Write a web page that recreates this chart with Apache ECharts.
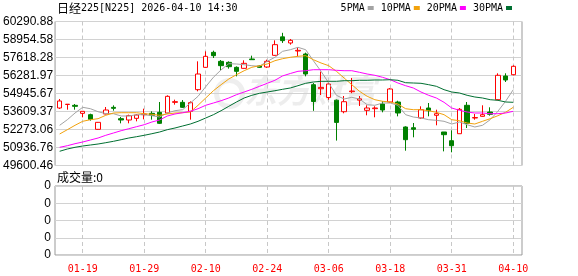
<!DOCTYPE html>
<html><head><meta charset="utf-8">
<script src="https://cdn.jsdelivr.net/npm/echarts@6/dist/echarts.min.js"></script>
<style>html,body{margin:0;padding:0;background:#fff}#c{width:578px;height:276px}</style>
</head><body><div id="c"></div>
<script>
const dates = ['01-14','01-15','01-16','01-19','01-20','01-21','01-22','01-23','01-26','01-27',
'01-28','01-29','01-30','02-02','02-03','02-04','02-05','02-06','02-09','02-10',
'02-12','02-13','02-16','02-17','02-18','02-19','02-20','02-24','02-25','02-26',
'02-27','03-02','03-03','03-04','03-05','03-06','03-09','03-10','03-11','03-12',
'03-13','03-16','03-17','03-18','03-19','03-23','03-24','03-25','03-26','03-27',
'03-30','03-31','04-01','04-02','04-03','04-06','04-07','04-08','04-09','04-10'];
const openP = [53869,54130,54067,53473,53374,52285,53424,53918,53077,52978,
53102,53374,53473,53547,53498,54290,54290,53621,55230,56888,
58002,57334,57259,56888,56814,57507,56987,56913,57779,59150,
58695,58101,57878,55600,55300,54650,54450,53594,55080,54450,
53698,53820,54166,54314,54314,52459,52406,53126,53869,53327,
52088,51441,51961,54069,53126,53250,53572,54485,56245,56341];
const closeP = [54389,54150,53993,53621,53028,52805,53720,53844,52978,53300,
53349,53424,53324,52731,54735,54339,53918,54265,56393,57705,
57754,57012,56937,56591,57185,57457,56888,57334,58571,58870,
58893,58150,56393,54350,55400,55650,52800,54336,55130,54550,
53869,53870,53720,55280,53498,51516,52288,53743,53669,53446,
51888,51070,53772,52733,53160,53372,53401,56297,55948,56965];
const lowP = [53795,53745,53745,53176,52929,52260,53400,53671,52731,52731,
52879,53028,53003,52680,53470,54116,53870,53003,55106,56860,
57581,56690,56789,56220,56790,57457,56840,56850,57750,58700,
58571,57705,56220,53660,54834,54480,51450,53475,54970,54017,
53327,53180,53550,54260,53250,50699,51694,53075,53252,52584,
50650,50580,51961,52384,53000,53225,53300,54440,55800,56297];
const highP = [54537,54160,54166,53621,53448,52830,53943,54067,53201,53374,
53424,53819,53621,54314,54809,54488,54460,54364,57333,58076,
58126,57432,57334,56960,57408,57754,57040,57457,58893,59450,
58992,58373,57977,55720,56570,55750,54500,54760,56100,54760,
54069,54000,54366,55350,54410,52510,52755,53995,54240,53743,
52088,52213,53869,54314,53424,54069,53920,56445,56445,57039];
const ma5 = [52585,53000,53498,53921,53817,53594,53446,53446,53275,53275,
53372,53372,53297,53201,53498,53669,53743,54240,54738,55450,
56150,56700,57158,57136,57084,57009,56965,57336,57633,58078,
58197,58375,58197,57381,56594,55725,54812,54537,54663,54537,
54114,54070,54240,54240,54070,53372,53201,53127,53000,52956,
52882,52681,52830,52629,52459,52585,53000,53624,54366,55228];
const ma10 = [51939,52258,52585,52882,53000,53075,53327,53498,53520,53520,
53520,53446,53401,53327,53424,53498,53520,53572,54070,54612,
55153,55599,56022,56341,56638,56891,57009,57136,57381,57529,
57633,57707,57752,57455,57210,57009,56594,56096,55599,55109,
54738,54485,54366,54315,54166,53817,53743,53743,53669,53550,
53372,53000,52926,52756,52681,52882,53075,53297,53550,53921];
const ma20 = [50951,51070,51219,51345,51493,51642,51842,52013,52184,52332,
52481,52629,52830,52978,53275,53424,53520,53624,53817,54070,
54240,54411,54612,54857,55057,55257,55480,55703,55926,56250,
56430,56594,56638,56712,56712,56712,56668,56638,56638,56519,
56393,56297,56148,55970,55725,55525,55354,55057,54812,54612,
54292,53869,53698,53572,53498,53498,53446,53446,53498,53624];
const ma30 = [50655,50825,50951,51048,51122,51196,51293,51397,51516,51642,
51738,51842,51961,52087,52258,52384,52533,52681,52882,53127,
53372,53669,53995,54315,54612,54812,54961,55057,55153,55257,
55354,55525,55703,55799,55851,55851,55851,55896,55896,55926,
55926,55948,55948,55970,55926,55747,55725,55703,55599,55480,
55228,55057,54983,54812,54686,54612,54485,54441,54315,54292];
const volume = new Array(60).fill(0);
const yTickLabels = ['49600.46','50936.76','52273.06','53609.37','54945.67','56281.97','57618.28','58954.58','60290.88'];
const volTickLabels = ['0','0','0','0','0'];
const xTickLabels = ['01-19','01-29','02-10','02-24','03-06','03-18','03-31','04-10'];
const maNames = ['5PMA','10PMA','20PMA','30PMA'];
const titleName = '日经';
const titleRest = '225[N225] 2026-04-10 14:30';
const volTitle = '成交量:0';

const yMin = 49600.46, yMax = 60290.88, yStep = (yMax - yMin) / 8;
const MAIN_TOP = 21.5, MAIN_H = 144, VOL_TOP = 186, VOL_H = 69;
const FRAME_L = 55, FRAME_W = 467, BAND_L = 55.8, BAND_W = 461.3;
const isTickDate = (d) => xTickLabels.indexOf(d) >= 0;
const labelInterval = function (a, b) {
  const idx = typeof a === 'number' ? a : (a && typeof a.value === 'number' ? a.value : dates.indexOf(b));
  return isTickDate(dates[idx]) || isTickDate(b);
};
const maColors = ['#a3a3a3', '#f2a20c', '#ff00ff', '#006f31'];

const baseGraphic = [
  {id: 'title', type: 'text', left: 57, top: 2, z: 10,
    style: {text: '{cn|' + titleName + '}{en|' + titleRest + '}',
      rich: {cn: {fontFamily: 'Noto Sans CJK SC', fontSize: 12, fill: '#000'},
             en: {fontFamily: 'DejaVu Sans Mono', fontSize: 10, fill: '#000'}}}},
  {id: 'voltitle', type: 'text', left: 57, top: 171, z: 10,
    style: {text: volTitle, font: '12px "Noto Sans CJK SC"', fill: '#000'}},
  {id: 'wm', type: 'text', left: 244, top: 74, z: -1, silent: true,
    style: {text: '东方财富', font: 'italic bold 33px "Noto Sans CJK SC"', fill: 'rgba(0,0,0,0.07)'}},
  {id: 'wmc', type: 'circle', left: 214, top: 78, z: -1, silent: true,
    shape: {r: 13}, style: {fill: 'none', stroke: 'rgba(0,0,0,0.065)', lineWidth: 5}}
];

const chart = echarts.init(document.getElementById('c'), null, {renderer: 'canvas'});
const candleData = dates.map((d, i) => [openP[i], closeP[i], lowP[i], highP[i]]);
const maData = [ma5, ma10, ma20, ma30];

chart.setOption({
  animation: false,
  backgroundColor: '#fff',
  grid: [
    {left: FRAME_L, top: MAIN_TOP, width: FRAME_W, height: MAIN_H, show: true, borderColor: '#999', borderWidth: 1, backgroundColor: 'rgba(0,0,0,0)'},
    {left: BAND_L, top: MAIN_TOP, width: BAND_W, height: MAIN_H},
    {left: FRAME_L, top: VOL_TOP, width: FRAME_W, height: VOL_H, show: true, borderColor: '#999', borderWidth: 1, backgroundColor: 'rgba(0,0,0,0)'},
    {left: BAND_L, top: VOL_TOP, width: BAND_W, height: VOL_H}
  ],
  xAxis: [
    {gridIndex: 0, type: 'value', show: false, min: 0, max: 1},
    {gridIndex: 1, type: 'category', data: dates, boundaryGap: true,
      axisLine: {show: false}, axisLabel: {show: false}, axisTick: {show: false}, splitLine: {show: false}},
    {gridIndex: 2, type: 'value', show: false, min: 0, max: 1},
    {gridIndex: 3, type: 'category', data: dates, boundaryGap: true,
      axisLine: {show: false}, axisTick: {show: false}, splitLine: {show: false},
      axisLabel: {show: true, interval: labelInterval, color: '#ff0000', fontFamily: 'DejaVu Sans Mono', fontSize: 10, margin: 9}}
  ],
  yAxis: [
    {gridIndex: 0, type: 'value', min: yMin, max: yMax, interval: yStep,
      axisLine: {show: false}, axisTick: {show: false},
      axisLabel: {color: '#000', fontFamily: 'Liberation Sans', fontSize: 12, margin: 2,
        formatter: (v) => yTickLabels[Math.round((v - yMin) / yStep)] || ''},
      splitLine: {show: true, lineStyle: {color: '#d2d2d2', width: 1}}},
    {gridIndex: 1, type: 'value', min: yMin, max: yMax, show: false},
    {gridIndex: 2, type: 'value', min: 0, max: 4, interval: 1,
      axisLine: {show: false}, axisTick: {show: false},
      axisLabel: {color: '#000', fontFamily: 'Liberation Sans', fontSize: 12, margin: 4,
        formatter: (v) => volTickLabels[Math.round(v)] || ''},
      splitLine: {show: true, lineStyle: {color: '#d2d2d2', width: 1}}},
    {gridIndex: 3, type: 'value', min: 0, max: 4, show: false}
  ],
  legend: {
    right: 66, top: 3, padding: 0, itemWidth: 6, itemHeight: 4, itemGap: 7, align: 'right',
    icon: 'rect', selectedMode: false, data: maNames,
    textStyle: {fontFamily: 'DejaVu Sans Mono', fontSize: 10, color: '#000', padding: [0, -2, 0, 0]}
  },
  graphic: baseGraphic,
  series: [
    {type: 'candlestick', name: 'K', xAxisIndex: 1, yAxisIndex: 1, data: candleData, barWidth: 5, z: 3,
      itemStyle: {color: '#ffffff', color0: '#008000', borderColor: '#ff0000', borderColor0: '#008000', borderWidth: 1}},
    ...maNames.map((n, k) => ({
      type: 'line', name: n, xAxisIndex: 1, yAxisIndex: 1, data: maData[k], showSymbol: false, symbol: 'none',
      z: 4, lineStyle: {color: maColors[k], width: 1}, itemStyle: {color: maColors[k]}
    })),
    {type: 'bar', name: '成交量', xAxisIndex: 3, yAxisIndex: 3, data: volume, barWidth: 5, z: 2,
      itemStyle: {color: '#ff0000'}}
  ]
});

// vertical dashed gridlines at the labelled dates, positioned through the chart's own axes
const vLines = [];
[[1, 1, yMin, yMax], [3, 3, 0, 4]].forEach(([xi, yi, lo, hi]) => {
  const yTop = chart.convertToPixel({yAxisIndex: yi}, hi);
  const yBot = chart.convertToPixel({yAxisIndex: yi}, lo);
  xTickLabels.forEach((d) => {
    const px = chart.convertToPixel({xAxisIndex: xi}, dates.indexOf(d));
    if (typeof px !== 'number' || isNaN(px)) return;
    const x = Math.round(px - 0.5) + 0.5;
    vLines.push({id: 'v' + xi + '_' + d, type: 'line', z: 2.5, silent: true,
      shape: {x1: x, y1: yTop, x2: x, y2: yBot},
      style: {stroke: '#c8c8c8', lineWidth: 1, lineDash: [4, 3]}});
  });
});
chart.setOption({graphic: baseGraphic.concat(vLines)});
</script></body></html>
